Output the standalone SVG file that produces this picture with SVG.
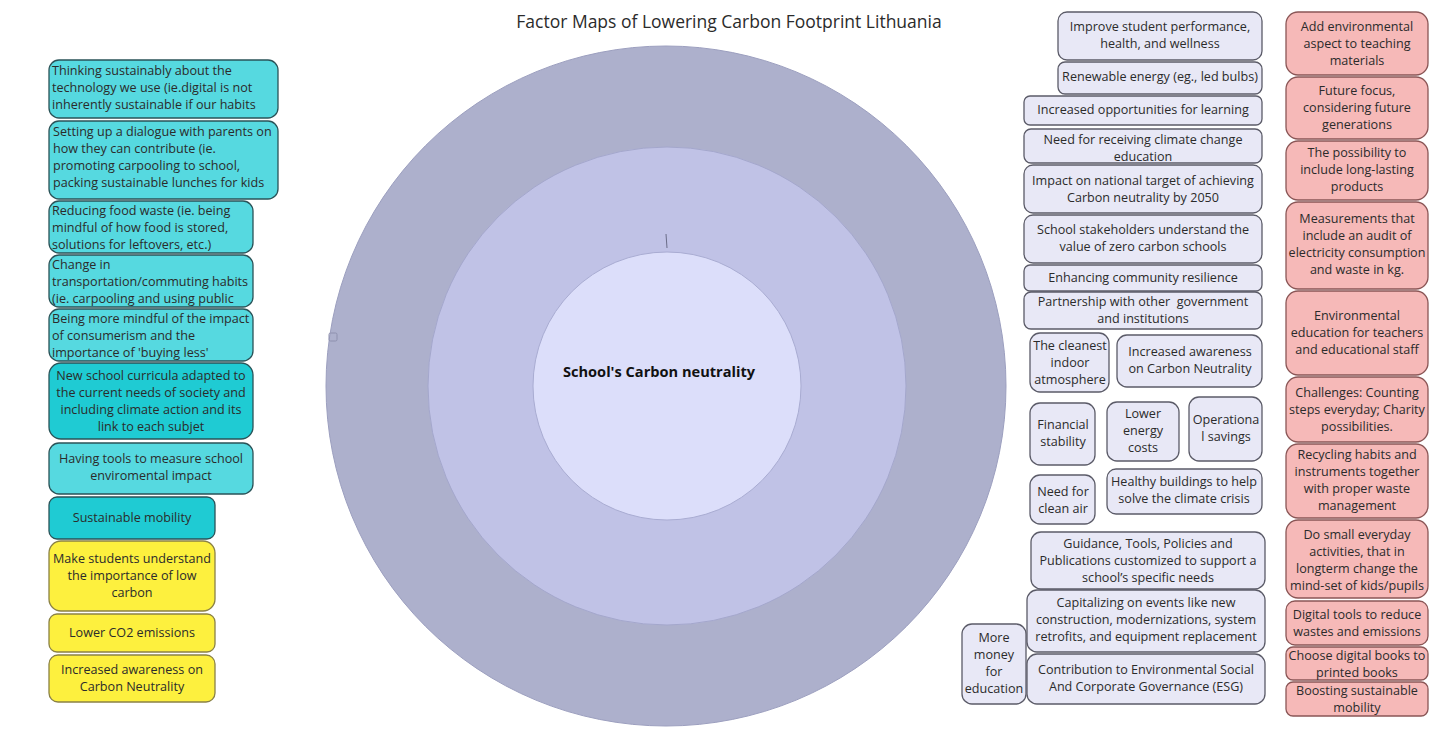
<svg xmlns="http://www.w3.org/2000/svg" width="1445" height="733" viewBox="0 0 1445 733">
<style>
text{font-family:"Open Sans","Noto Sans","Liberation Sans",sans-serif;font-size:12.6px;fill:#2b2b2b}
.c{text-anchor:middle}
.cy{fill:#56d9e0;stroke:#2a5358;stroke-width:1.3}
.cyd{fill:#1fcbd3;stroke:#2a5358;stroke-width:1.3}
.ye{fill:#fdf03e;stroke:#8a8145;stroke-width:1.3}
.lv{fill:#e8e8f6;stroke:#5b5b68;stroke-width:1.3}
.pk{fill:#f6b9b8;stroke:#8a5656;stroke-width:1.3}
</style>
<defs>
<clipPath id="k1"><rect x="49" y="60" width="229" height="58" rx="10"/></clipPath>
<clipPath id="k2"><rect x="49" y="121" width="229" height="78" rx="10"/></clipPath>
<clipPath id="k3"><rect x="49" y="201" width="204" height="52" rx="10"/></clipPath>
<clipPath id="k4"><rect x="49" y="255" width="204" height="52" rx="10"/></clipPath>
<clipPath id="k5"><rect x="49" y="309" width="204" height="52" rx="10"/></clipPath>
</defs>
<rect width="1445" height="733" fill="#ffffff"/>
<text x="729" y="28" class="c" style="font-size:17.5px">Factor Maps of Lowering Carbon Footprint Lithuania</text>

<g id="target">
<circle cx="666" cy="386" r="340" fill="#adb0cc" stroke="#9c9fbf" stroke-width="1"/>
<circle cx="667" cy="386" r="239" fill="#c0c2e6" stroke="#a4a7cc" stroke-width="1"/>
<circle cx="667" cy="386" r="134" fill="#dcdefa" stroke="#a9acd2" stroke-width="1"/>
<line x1="666" y1="234" x2="667" y2="248" stroke="#6a6c88" stroke-width="1"/>
<rect x="329" y="333" width="8" height="8" rx="1.5" fill="none" stroke="#8e90ae" stroke-width="1"/>
<text x="659" y="377" class="c" style="font-weight:bold;font-size:14.6px;fill:#111">School's Carbon neutrality</text>
</g>

<g id="left">
<g id="l1"><rect class="cy" x="49" y="60" width="229" height="58" rx="10"/><text x="52" clip-path="url(#k1)"><tspan x="52" y="75">Thinking sustainably about the</tspan><tspan x="52" y="92">technology we use (ie.digital is not</tspan><tspan x="52" y="109">inherently sustainable if our habits</tspan></text></g>
<g id="l2"><rect class="cy" x="49" y="121" width="229" height="78" rx="10"/><text clip-path="url(#k2)"><tspan x="53" y="136">Setting up a dialogue with parents on</tspan><tspan x="53" y="153">how they can contribute (ie.</tspan><tspan x="53" y="170">promoting carpooling to school,</tspan><tspan x="53" y="187">packing sustainable lunches for kids</tspan></text></g>
<g id="l3"><rect class="cy" x="49" y="201" width="204" height="52" rx="10"/><text clip-path="url(#k3)"><tspan x="52" y="215">Reducing food waste (ie. being</tspan><tspan x="52" y="232">mindful of how food is stored,</tspan><tspan x="52" y="249">solutions for leftovers, etc.)</tspan></text></g>
<g id="l4"><rect class="cy" x="49" y="255" width="204" height="52" rx="10"/><text clip-path="url(#k4)"><tspan x="52" y="269">Change in</tspan><tspan x="52" y="286">transportation/commuting habits</tspan><tspan x="52" y="303">(ie. carpooling and using public</tspan></text></g>
<g id="l5"><rect class="cy" x="49" y="309" width="204" height="52" rx="10"/><text clip-path="url(#k5)"><tspan x="52" y="323">Being more mindful of the impact</tspan><tspan x="52" y="340">of consumerism and the</tspan><tspan x="52" y="357">importance of 'buying less'</tspan></text></g>
<g id="l6"><rect class="cyd" x="49" y="363" width="204" height="76" rx="12"/><text class="c"><tspan x="151" y="380">New school curricula adapted to</tspan><tspan x="151" y="397">the current needs of society and</tspan><tspan x="151" y="414">including climate action and its</tspan><tspan x="151" y="431">link to each subjet</tspan></text></g>
<g id="l7"><rect class="cy" x="49" y="443" width="204" height="51" rx="10"/><text class="c"><tspan x="151" y="463">Having tools to measure school</tspan><tspan x="151" y="480">enviromental impact</tspan></text></g>
<g id="l8"><rect class="cyd" x="49" y="497" width="166" height="42" rx="8"/><text class="c" x="132" y="522">Sustainable mobility</text></g>
<g id="l9"><rect class="ye" x="49" y="541" width="166" height="70" rx="12"/><text class="c"><tspan x="132" y="563">Make students understand</tspan><tspan x="132" y="580">the importance of low</tspan><tspan x="132" y="597">carbon</tspan></text></g>
<g id="l10"><rect class="ye" x="49" y="614" width="166" height="38" rx="8"/><text class="c" x="132" y="637">Lower CO2 emissions</text></g>
<g id="l11"><rect class="ye" x="49" y="655" width="166" height="47" rx="9"/><text class="c"><tspan x="132" y="674">Increased awareness on</tspan><tspan x="132" y="691">Carbon Neutrality</tspan></text></g>
</g>

<g id="mid">
<g id="m1"><rect class="lv" x="1058" y="12" width="204" height="48" rx="9"/><text class="c"><tspan x="1160" y="31">Improve student performance,</tspan><tspan x="1160" y="48">health, and wellness</tspan></text></g>
<g id="m2"><rect class="lv" x="1058" y="62" width="204" height="32" rx="7"/><text class="c" x="1160" y="81">Renewable energy (eg., led bulbs)</text></g>
<g id="m3"><rect class="lv" x="1024" y="96" width="238" height="29" rx="6"/><text class="c" x="1143" y="114">Increased opportunities for learning</text></g>
<g id="m4"><rect class="lv" x="1024" y="129" width="238" height="34" rx="7"/><text class="c"><tspan x="1143" y="144">Need for receiving climate change</tspan><tspan x="1143" y="161">education</tspan></text></g>
<g id="m5"><rect class="lv" x="1024" y="165" width="238" height="48" rx="9"/><text class="c"><tspan x="1143" y="185">Impact on national target of achieving</tspan><tspan x="1143" y="202">Carbon neutrality by 2050</tspan></text></g>
<g id="m6"><rect class="lv" x="1024" y="215" width="238" height="48" rx="9"/><text class="c"><tspan x="1143" y="234">School stakeholders understand the</tspan><tspan x="1143" y="251">value of zero carbon schools</tspan></text></g>
<g id="m7"><rect class="lv" x="1024" y="265" width="238" height="26" rx="6"/><text class="c" x="1143" y="282">Enhancing community resilience</text></g>
<g id="m8"><rect class="lv" x="1024" y="292" width="238" height="37" rx="7"/><text class="c" xml:space="preserve"><tspan x="1143" y="306">Partnership with other  government</tspan><tspan x="1143" y="323">and institutions</tspan></text></g>
<g id="m9"><rect class="lv" x="1030" y="333" width="79" height="59" rx="10"/><text class="c"><tspan x="1070" y="350">The cleanest</tspan><tspan x="1070" y="367">indoor</tspan><tspan x="1070" y="384">atmosphere</tspan></text></g>
<g id="m10"><rect class="lv" x="1117" y="335" width="145" height="52" rx="10"/><text class="c"><tspan x="1190" y="356">Increased awareness</tspan><tspan x="1190" y="373">on Carbon Neutrality</tspan></text></g>
<g id="m11"><rect class="lv" x="1030" y="403" width="65" height="62" rx="10"/><text class="c"><tspan x="1063" y="429">Financial</tspan><tspan x="1063" y="446">stability</tspan></text></g>
<g id="m12"><rect class="lv" x="1107" y="402" width="72" height="59" rx="10"/><text class="c"><tspan x="1143" y="418">Lower</tspan><tspan x="1143" y="435">energy</tspan><tspan x="1143" y="452">costs</tspan></text></g>
<g id="m13"><rect class="lv" x="1189" y="397" width="73" height="64" rx="10"/><text class="c"><tspan x="1226" y="424">Operationa</tspan><tspan x="1226" y="441">l savings</tspan></text></g>
<g id="m14"><rect class="lv" x="1030" y="475" width="65" height="49" rx="10"/><text class="c"><tspan x="1063" y="496">Need for</tspan><tspan x="1063" y="513">clean air</tspan></text></g>
<g id="m15"><rect class="lv" x="1107" y="469" width="155" height="45" rx="9"/><text class="c"><tspan x="1184" y="486">Healthy buildings to help</tspan><tspan x="1184" y="503">solve the climate crisis</tspan></text></g>
<g id="m16"><rect class="lv" x="1031" y="532" width="234" height="57" rx="10"/><text class="c"><tspan x="1148" y="548">Guidance, Tools, Policies and</tspan><tspan x="1148" y="565">Publications customized to support a</tspan><tspan x="1148" y="582">school’s specific needs</tspan></text></g>
<g id="m17"><rect class="lv" x="1027" y="590" width="238" height="62" rx="10"/><text class="c"><tspan x="1146" y="607">Capitalizing on events like new</tspan><tspan x="1146" y="624">construction, modernizations, system</tspan><tspan x="1146" y="641">retrofits, and equipment replacement</tspan></text></g>
<g id="m18"><rect class="lv" x="962" y="624" width="64" height="80" rx="10"/><text class="c"><tspan x="994" y="642">More</tspan><tspan x="994" y="659">money</tspan><tspan x="994" y="676">for</tspan><tspan x="994" y="693">education</tspan></text></g>
<g id="m19"><rect class="lv" x="1027" y="654" width="238" height="50" rx="10"/><text class="c"><tspan x="1146" y="674">Contribution to Environmental Social</tspan><tspan x="1146" y="691">And Corporate Governance (ESG)</tspan></text></g>
</g>

<g id="right">
<g id="r1"><rect class="pk" x="1286" y="12" width="142" height="63" rx="12"/><text class="c"><tspan x="1357" y="31">Add environmental</tspan><tspan x="1357" y="48">aspect to teaching</tspan><tspan x="1357" y="65">materials</tspan></text></g>
<g id="r2"><rect class="pk" x="1286" y="77" width="142" height="62" rx="12"/><text class="c"><tspan x="1357" y="95">Future focus,</tspan><tspan x="1357" y="112">considering future</tspan><tspan x="1357" y="129">generations</tspan></text></g>
<g id="r3"><rect class="pk" x="1286" y="141" width="142" height="59" rx="12"/><text class="c"><tspan x="1357" y="157">The possibility to</tspan><tspan x="1357" y="174">include long-lasting</tspan><tspan x="1357" y="191">products</tspan></text></g>
<g id="r4"><rect class="pk" x="1286" y="202" width="142" height="87" rx="12"/><text class="c"><tspan x="1357" y="223">Measurements that</tspan><tspan x="1357" y="240">include an audit of</tspan><tspan x="1357" y="257">electricity consumption</tspan><tspan x="1357" y="274">and waste in kg.</tspan></text></g>
<g id="r5"><rect class="pk" x="1286" y="291" width="142" height="84" rx="12"/><text class="c"><tspan x="1357" y="320">Environmental</tspan><tspan x="1357" y="337">education for teachers</tspan><tspan x="1357" y="354">and educational staff</tspan></text></g>
<g id="r6"><rect class="pk" x="1286" y="377" width="142" height="65" rx="12"/><text class="c"><tspan x="1357" y="397">Challenges: Counting</tspan><tspan x="1357" y="414">steps everyday; Charity</tspan><tspan x="1357" y="431">possibilities.</tspan></text></g>
<g id="r7"><rect class="pk" x="1286" y="444" width="142" height="74" rx="12"/><text class="c"><tspan x="1357" y="459">Recycling habits and</tspan><tspan x="1357" y="476">instruments together</tspan><tspan x="1357" y="493">with proper waste</tspan><tspan x="1357" y="510">management</tspan></text></g>
<g id="r8"><rect class="pk" x="1286" y="520" width="142" height="78" rx="12"/><text class="c"><tspan x="1357" y="539">Do small everyday</tspan><tspan x="1357" y="556">activities, that in</tspan><tspan x="1357" y="573">longterm change the</tspan><tspan x="1357" y="590">mind-set of kids/pupils</tspan></text></g>
<g id="r9"><rect class="pk" x="1286" y="601" width="142" height="44" rx="9"/><text class="c"><tspan x="1357" y="619">Digital tools to reduce</tspan><tspan x="1357" y="636">wastes and emissions</tspan></text></g>
<g id="r10"><rect class="pk" x="1286" y="647" width="142" height="33" rx="7"/><text class="c"><tspan x="1357" y="660">Choose digital books to</tspan><tspan x="1357" y="677">printed books</tspan></text></g>
<g id="r11"><rect class="pk" x="1286" y="682" width="142" height="34" rx="7"/><text class="c"><tspan x="1357" y="695">Boosting sustainable</tspan><tspan x="1357" y="712">mobility</tspan></text></g>
</g>
<g id="connectors"></g>
</svg>
